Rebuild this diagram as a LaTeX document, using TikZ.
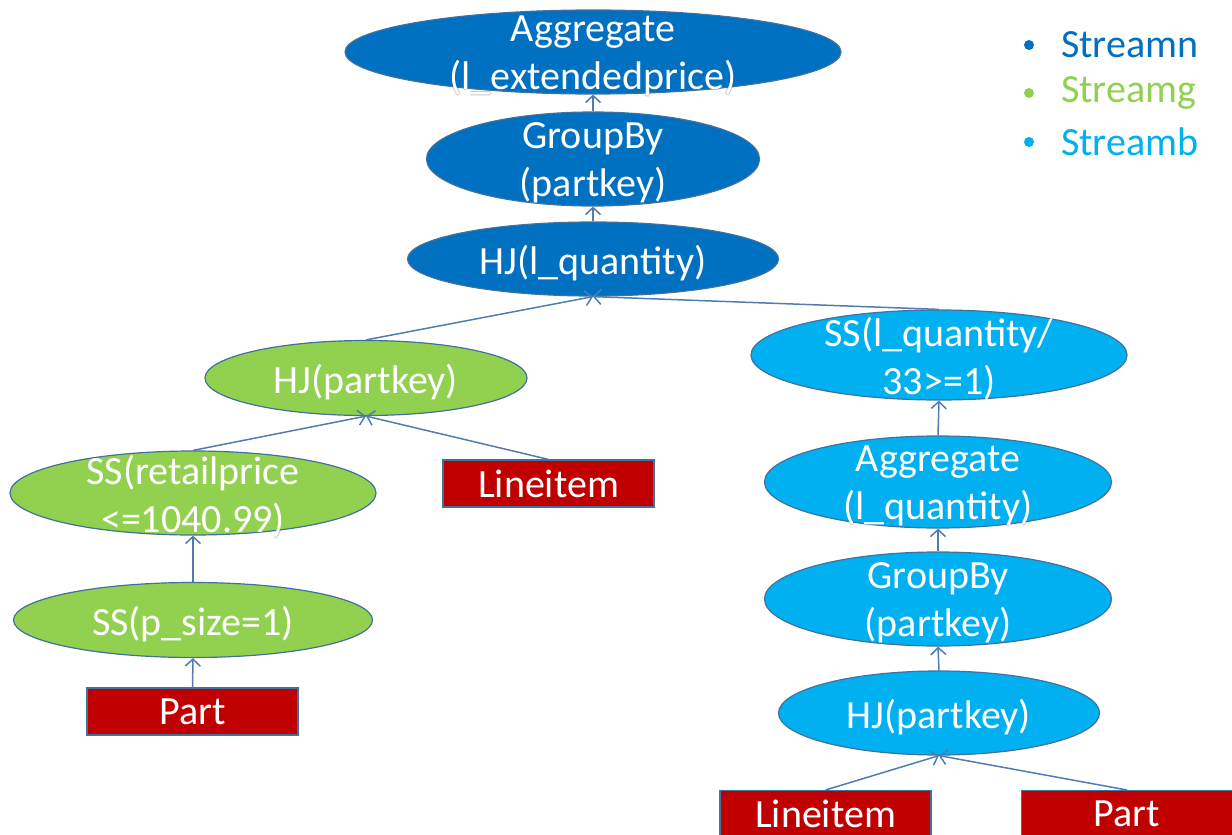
\documentclass[tikz,border=0pt]{standalone}
\usepackage{fontspec}
\setmainfont{Carlito}
\usetikzlibrary{shapes.geometric,arrows.meta,calc}
\definecolor{cN}{HTML}{0070C0}
\definecolor{cG}{HTML}{92D050}
\definecolor{cB}{HTML}{00B0F0}
\definecolor{cR}{HTML}{C00000}
\definecolor{edge}{HTML}{41719C}
\definecolor{link}{HTML}{4F7DB0}
\definecolor{rim}{HTML}{C8C8C8}
\tikzset{
  opn/.style={ellipse, draw=edge, line width=1.2pt, inner sep=0pt},
  tbl/.style={rectangle, draw=edge, line width=1.2pt, fill=cR, inner sep=0pt,
              minimum width=211pt, minimum height=47pt, text=white,
              font=\fontsize{40}{48}\selectfont},
  lbl/.style={text=white, align=center, inner sep=0pt, yshift=-4pt,
              font=\fontsize{40}{48}\selectfont},
  flow/.style={draw=link, line width=1.5pt,
               -{Straight Barb[length=7pt,width=15pt,line width=1.5pt]}},
  leg/.style={anchor=west, inner sep=0pt, font=\fontsize{40}{48}\selectfont}
}
% white operator text
\newcommand\oplabel[2]{\node[lbl] at (#1) {#2};}
% faint grey rim drawn under an ellipse; only the part outside the ellipse shows
\newcommand\textrim[2]{%
  \foreach \dx/\dy in {0.7/0,-0.7/0,0/0.7,0/-0.7}
    \node[lbl, text=rim] at ($(#1)+(\dx,\dy)$) {#2};}
\begin{document}
\begin{tikzpicture}[x=1pt,y=-1pt]
\useasboundingbox (0,0) rectangle (1232,835);

% Streamn operators
\coordinate (aggc) at (593,52);
\textrim{aggc}{Aggregate\\(l\_extendedprice)}
\node[opn, fill=cN, minimum width=496pt, minimum height=84pt] (agg) at (aggc) {};
\oplabel{agg}{Aggregate\\(l\_extendedprice)}
\node[opn, fill=cN, minimum width=333pt, minimum height=94pt] (grp) at (593,159) {};
\oplabel{grp}{GroupBy\\(partkey)}
\node[opn, fill=cN, minimum width=371pt, minimum height=74pt] (hjq) at (593,259) {};
\oplabel{hjq}{HJ(l\_quantity)}

% Streamg operators
\node[opn, fill=cG, minimum width=322pt, minimum height=75pt] (hjg) at (366,378) {};
\oplabel{hjg}{HJ(partkey)}
\coordinate (ssrc) at (193,493);
\textrim{ssrc}{SS(retailprice\\<=1040.99)}
\node[opn, fill=cG, minimum width=366pt, minimum height=84pt] (ssr) at (ssrc) {};
\oplabel{ssr}{SS(retailprice\\<=1040.99)}
\node[opn, fill=cG, minimum width=359pt, minimum height=75pt] (ssp) at (193,620) {};
\oplabel{ssp}{SS(p\_size=1)}
\node[tbl] (partA) at (192.5,711.5) {Part};
\node[tbl] (lineA) at (548.5,483.5) {Lineitem};

% Streamb operators
\node[opn, fill=cB, minimum width=376pt, minimum height=90pt] (ssq) at (939,355) {};
\oplabel{ssq}{SS(l\_quantity/\\33>=1)}
\coordinate (aggbc) at (938,482);
\textrim{aggbc}{Aggregate\\(l\_quantity)}
\node[opn, fill=cB, minimum width=347pt, minimum height=92pt] (aggb) at (aggbc) {};
\oplabel{aggb}{Aggregate\\(l\_quantity)}
\node[opn, fill=cB, minimum width=347pt, minimum height=94pt] (grpb) at (938,599) {};
\oplabel{grpb}{GroupBy\\(partkey)}
\node[opn, fill=cB, minimum width=321pt, minimum height=84pt] (hjb) at (939,713) {};
\oplabel{hjb}{HJ(partkey)}
\node[tbl, anchor=north] (lineB) at (825.5,790) {Lineitem};
\node[tbl, anchor=north] (partB) at (1127,790) {Part};

% data flow
\draw[flow] (grp.north) -- (agg.south);
\draw[flow] (hjq.north) -- (grp.south);
\draw[flow] (hjg.north) -- (hjq.south);
\draw[flow] (ssq.north) -- (hjq.south);
\draw[flow] (ssr.north) -- (hjg.south);
\draw[flow] (lineA.north) -- (hjg.south);
\draw[flow] (ssp.north) -- (ssr.south);
\draw[flow] (partA.north) -- (ssp.south);
\draw[flow] (aggb.north) -- (ssq.south);
\draw[flow] (grpb.north) -- (aggb.south);
\draw[flow] (hjb.north) -- (grpb.south);
\draw[flow] (lineB.north) -- (hjb.south);
\draw[flow] (partB.north) -- (hjb.south);

% legend
\fill[cN] (1029,45) circle (5pt);
\node[leg, text=cN] (ln) at (1061,45) {Streamn};
\fill[cG] (1029,93) circle (5pt);
\node[leg, text=cG] (lg) at (1061,93) {Streamg};
\fill[cB] (1029,142) circle (5pt);
\node[leg, text=cB] (lb) at (1061,142) {Streamb};
\end{tikzpicture}
\end{document}
